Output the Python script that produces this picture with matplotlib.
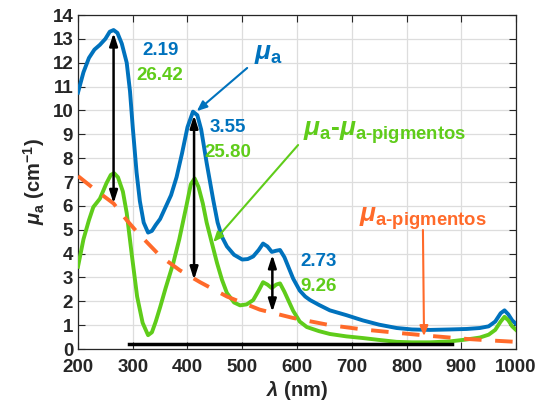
import numpy as np
import matplotlib
matplotlib.use("Agg")
import matplotlib.pyplot as plt

plt.rcParams['font.family'] = ['Liberation Sans', 'DejaVu Sans']
plt.rcParams['font.weight'] = 'bold'
plt.rcParams['mathtext.fontset'] = 'custom'
plt.rcParams['mathtext.rm'] = 'Liberation Sans:bold'
plt.rcParams['mathtext.bf'] = 'Liberation Sans:bold'
plt.rcParams['mathtext.it'] = 'Liberation Sans:italic'

# ---- data ----
wl = [200, 210, 220, 230, 240, 250, 258, 265, 272, 280, 289, 295, 300, 307, 313,
      320, 328, 335, 342, 350, 360, 370, 380, 390, 400, 410, 418, 425, 435, 447,
      455, 463, 472, 485, 500, 510, 520, 530, 538, 546, 554, 562, 569, 577, 585,
      593, 605, 615, 624, 640, 660, 690, 720, 750, 782, 810, 843, 880, 910, 934,
      950, 962, 972, 979, 986, 993, 1000]
mu_a = [10.75, 11.6, 12.2, 12.55, 12.75, 13.0, 13.3, 13.37, 13.25, 12.8, 12.0, 10.8, 9.3, 7.4, 6.2,
        5.3, 4.88, 4.95, 5.2, 5.45, 5.95, 6.45, 7.2, 8.2, 9.3, 9.95, 9.8, 9.2, 7.8, 6.25,
        5.3, 4.7, 4.3, 3.95, 3.75, 3.77, 3.88, 4.15, 4.42, 4.3, 4.07, 4.12, 4.15, 3.85, 3.4,
        2.95, 2.45, 2.2, 2.05, 1.85, 1.62, 1.42, 1.2, 1.02, 0.88, 0.82, 0.8, 0.82, 0.84, 0.88,
        0.95, 1.15, 1.5, 1.62, 1.45, 1.2, 1.05]

wl_d = [200, 210, 220, 228, 240, 252, 260, 266, 273, 282, 289, 298, 308, 318, 328,
        335, 342, 350, 360, 374, 385, 398, 406, 413, 420, 428, 435, 445, 454, 463,
        472, 485, 496, 508, 520, 530, 538, 546, 554, 562, 569, 577, 585, 593, 605,
        618, 640, 660, 690, 720, 750, 782, 810, 843, 880, 910, 934, 950, 962, 972,
        979, 986, 993, 1000]
mu_diff = [3.45, 4.6, 5.4, 5.95, 6.3, 6.95, 7.3, 7.37, 7.2, 6.6, 5.7, 4.0, 2.2, 1.1, 0.58,
           0.7, 1.15, 1.75, 2.55, 3.6, 4.6, 6.0, 6.9, 7.15, 6.8, 6.1, 5.3, 4.4, 3.6, 2.9,
           2.35, 1.95, 1.83, 1.87, 2.05, 2.45, 2.8, 2.7, 2.55, 2.7, 2.75, 2.4, 2.0, 1.6, 1.15,
           0.92, 0.75, 0.63, 0.53, 0.46, 0.38, 0.3, 0.28, 0.28, 0.32, 0.4, 0.48, 0.6, 0.8, 1.15,
           1.35, 1.2, 0.95, 0.8]

wl_p = [200, 230, 265, 289, 308, 350, 386, 423, 472, 532, 593, 660, 720, 782, 843, 911, 960, 1000]
mu_pig = [7.25, 6.7, 6.1, 5.4, 4.9, 3.9, 3.3, 2.8, 2.2, 1.65, 1.3, 1.0, 0.82, 0.68, 0.55, 0.42, 0.35, 0.3]

arrow_x = [265, 412, 555]
arrow_top = [13.25, 9.8, 3.95]
arrow_bot = [6.1, 2.9, 1.55]

base_x = [293, 883]
base_y = [0.22, 0.22]

ratio_blue = ["2.19", "3.55", "2.73"]
ratio_green = ["26.42", "25.80", "9.26"]
ratio_x = [350, 474, 640]
ratio_y = [12.53, 9.3, 3.65]

blue = '#0072BD'
green = '#5FCC1A'
orange = '#FF6A2A'
dark = '#262626'

fig = plt.figure(figsize=(5.36, 4.08), dpi=100)
ax = fig.add_axes([0.1455, 0.1446, 0.8172, 0.8186])

ax.plot(wl, mu_a, color=blue, lw=2.8, zorder=3)
ax.plot(wl_d, mu_diff, color=green, lw=2.8, zorder=3)
ax.plot(wl_p, mu_pig, color=orange, lw=2.8, dashes=(4.5, 3.5), zorder=3)
ax.plot(base_x, base_y, color='black', lw=2.5, zorder=3)

for x, t, b in zip(arrow_x, arrow_top, arrow_bot):
    ax.annotate('', xy=(x, b), xytext=(x, t),
                arrowprops=dict(arrowstyle='<|-|>,head_length=0.75,head_width=0.24',
                                color='black', lw=1.8, shrinkA=0, shrinkB=0), zorder=4)

for bt, gt, x, y in zip(ratio_blue, ratio_green, ratio_x, ratio_y):
    ax.text(x, y, bt, color=blue, fontsize=13.5, fontweight='bold', ha='center', va='center')
    ax.text(x, y - 1.05, gt, color=green, fontsize=13.5, fontweight='bold', ha='center', va='center')

# curve labels with arrows
ax.text(548, 12.35, r'$\mu_{\mathrm{a}}$', color=blue, fontsize=19, ha='center', va='center')
ax.annotate('', xy=(417, 9.97), xytext=(509, 11.78),
            arrowprops=dict(arrowstyle='-|>,head_length=0.6,head_width=0.25',
                            color=blue, lw=1.5, shrinkA=0, shrinkB=0))

ax.text(611, 9.05, r'$\mu_{\mathrm{a}}$-$\mu_{\mathrm{a\text{-}pigmentos}}$', color=green,
        fontsize=19, ha='left', va='center')
ax.annotate('', xy=(447, 4.48), xytext=(602, 8.55),
            arrowprops=dict(arrowstyle='-|>,head_length=0.6,head_width=0.25',
                            color=green, lw=1.5, shrinkA=0, shrinkB=0))

ax.text(829, 5.45, r'$\mu_{\mathrm{a\text{-}pigmentos}}$', color=orange,
        fontsize=19, ha='center', va='center')
ax.annotate('', xy=(832, 0.54), xytext=(830, 4.99),
            arrowprops=dict(arrowstyle='-|>,head_length=0.6,head_width=0.25',
                            color=orange, lw=1.5, shrinkA=0, shrinkB=0))

ax.set_xlim(200, 1000)
ax.set_ylim(0, 14)
ax.set_xticks(np.arange(200, 1001, 100))
ax.set_yticks(np.arange(0, 15, 1))
ax.grid(True, color='#DDDDDD', lw=0.9)
ax.set_axisbelow(True)
ax.tick_params(direction='in', top=True, right=True, length=5, labelsize=13.5, width=0.8,
               colors=dark)
ax.tick_params(axis='x', pad=7)
for lab in ax.get_xticklabels() + ax.get_yticklabels():
    lab.set_fontweight('bold')
for s in ax.spines.values():
    s.set_linewidth(0.9)
    s.set_color(dark)

ax.set_xlabel(r'$\lambda$ (nm)', fontsize=14.5, fontweight='bold', color=dark, labelpad=2)
ax.set_ylabel(r'$\mu_{\mathrm{a}}$ (cm$^{\mathrm{-1}}$)', fontsize=14.5, fontweight='bold', color=dark)

fig.savefig('out.png', dpi=100)
